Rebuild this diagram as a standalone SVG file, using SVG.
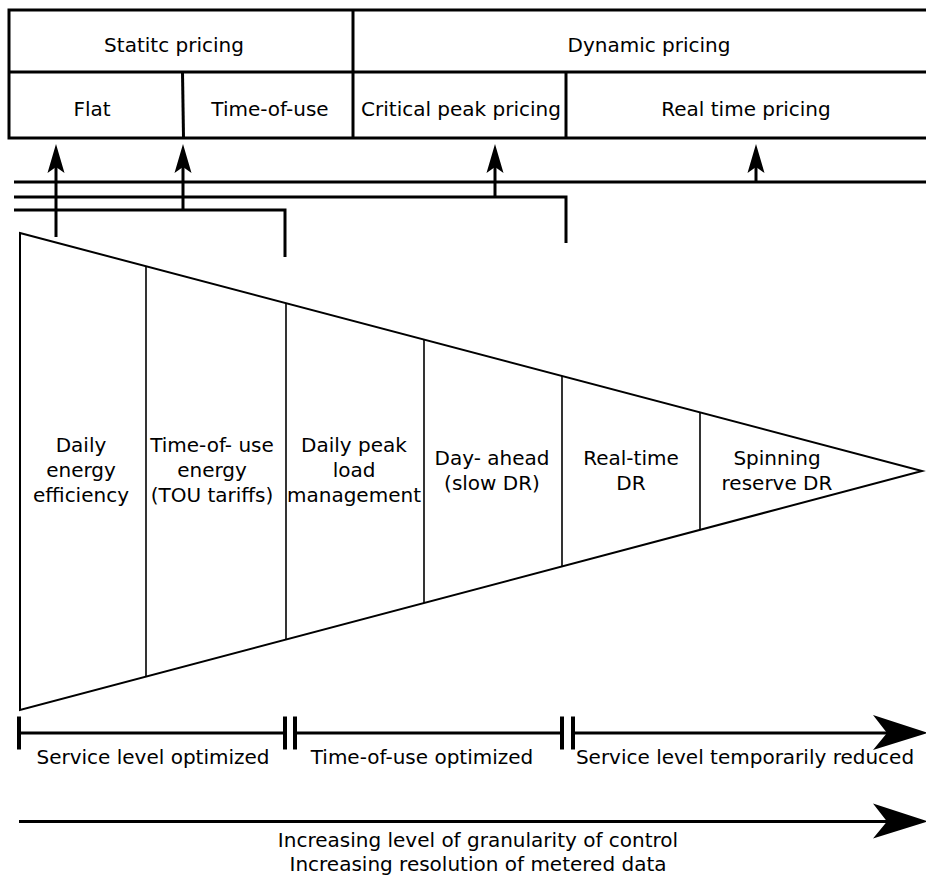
<svg xmlns="http://www.w3.org/2000/svg" width="926" height="876" viewBox="0 0 926 876">
<style>
text{font-family:"DejaVu Sans","Liberation Sans",sans-serif;font-size:20px;fill:#000;text-anchor:middle}
.tb{fill:none;stroke:#000;stroke-width:3}
.cn{fill:none;stroke:#000;stroke-width:3}
.tri{fill:#fff;stroke:#000;stroke-width:2;stroke-linejoin:miter}
.dv{stroke:#000;stroke-width:1.6}
.ah{fill:#000;stroke:none}
</style>
<rect width="926" height="876" fill="#fff"/>
<g id="pricing-table">
  <rect class="tb" x="9" y="10" width="930" height="128"/>
  <line class="tb" x1="9" y1="72" x2="930" y2="72"/>
  <line class="tb" x1="353" y1="10" x2="353" y2="138"/>
  <line class="tb" x1="182.5" y1="72" x2="183.5" y2="138"/>
  <line class="tb" x1="566" y1="72" x2="566" y2="138"/>
</g>
<g id="static-pricing"><text x="174" y="52">Statitc pricing</text></g>
<g id="dynamic-pricing"><text x="649" y="52">Dynamic pricing</text></g>
<g id="flat"><text x="92" y="116">Flat</text></g>
<g id="time-of-use"><text x="270" y="116">Time-of-use</text></g>
<g id="critical-peak"><text x="461" y="116">Critical peak pricing</text></g>
<g id="real-time-pricing"><text x="746" y="116">Real time pricing</text></g>
<g id="connectors">
  <polyline class="cn" points="14,182 930,182"/>
  <polyline class="cn" points="14,197 566,197 566,243"/>
  <polyline class="cn" points="14,210 285,210 285,257"/>
  <line class="cn" x1="56" y1="237" x2="56" y2="160"/>
  <path class="ah" d="M56,144 L64.5,173 L56,167 L47.5,173 Z"/>
  <line class="cn" x1="183" y1="210" x2="183" y2="160"/>
  <path class="ah" d="M183,144 L191.5,173 L183,167 L174.5,173 Z"/>
  <line class="cn" x1="495" y1="197" x2="495" y2="160"/>
  <path class="ah" d="M495,144 L503.5,173 L495,167 L486.5,173 Z"/>
  <line class="cn" x1="756" y1="182" x2="756" y2="160"/>
  <path class="ah" d="M756,144 L764.5,173 L756,167 L747.5,173 Z"/>
</g>
<g id="triangle">
  <polygon class="tri" points="20,233 922,471 20,710"/>
  <line class="dv" x1="146" y1="266.2" x2="146" y2="676.6"/>
  <line class="dv" x1="286" y1="303.2" x2="286" y2="639.5"/>
  <line class="dv" x1="424" y1="339.6" x2="424" y2="603"/>
  <line class="dv" x1="562" y1="376" x2="562" y2="566.4"/>
  <line class="dv" x1="700" y1="412.4" x2="700" y2="529.8"/>
</g>
<g id="daily-energy-efficiency"><text x="81" y="452">Daily</text><text x="81" y="477">energy</text><text x="81" y="502">efficiency</text></g>
<g id="tou-energy"><text x="212" y="452">Time-of- use</text><text x="212" y="477">energy</text><text x="212" y="502">(TOU tariffs)</text></g>
<g id="daily-peak"><text x="354" y="452">Daily peak</text><text x="354" y="477">load</text><text x="354" y="502">management</text></g>
<g id="day-ahead"><text x="492" y="465">Day- ahead</text><text x="492" y="490">(slow DR)</text></g>
<g id="real-time-dr"><text x="631" y="465">Real-time</text><text x="631" y="490">DR</text></g>
<g id="spinning-reserve"><text x="777" y="465">Spinning</text><text x="777" y="490">reserve DR</text></g>
<g id="service-timeline">
  <line class="cn" x1="19" y1="733" x2="285" y2="733"/>
  <line class="cn" x1="295" y1="733" x2="562" y2="733"/>
  <line class="cn" x1="573" y1="733" x2="890" y2="733"/>
  <line stroke="#000" stroke-width="4" x1="19" y1="716.5" x2="19" y2="749.5"/>
  <line stroke="#000" stroke-width="4" x1="285" y1="716.5" x2="285" y2="749.5"/>
  <line stroke="#000" stroke-width="4" x1="295" y1="716.5" x2="295" y2="749.5"/>
  <line stroke="#000" stroke-width="4" x1="562" y1="716.5" x2="562" y2="749.5"/>
  <line stroke="#000" stroke-width="4" x1="573" y1="716.5" x2="573" y2="749.5"/>
  <path class="ah" d="M928,733 L873,750 L887,733 L873,715 Z"/>
</g>
<g id="service-level-optimized"><text x="153" y="764">Service level optimized</text></g>
<g id="tou-optimized"><text x="422" y="764">Time-of-use optimized</text></g>
<g id="service-reduced"><text x="745" y="764">Service level temporarily reduced</text></g>
<g id="granularity-arrow">
  <line class="cn" x1="19" y1="821.5" x2="890" y2="821.5"/>
  <path class="ah" d="M928,821.5 L873,838.5 L887,821.5 L873,803.5 Z"/>
</g>
<g id="granularity-label"><text x="478" y="846.5">Increasing level of granularity of control</text><text x="478" y="870.5">Increasing resolution of metered data</text></g>
</svg>
